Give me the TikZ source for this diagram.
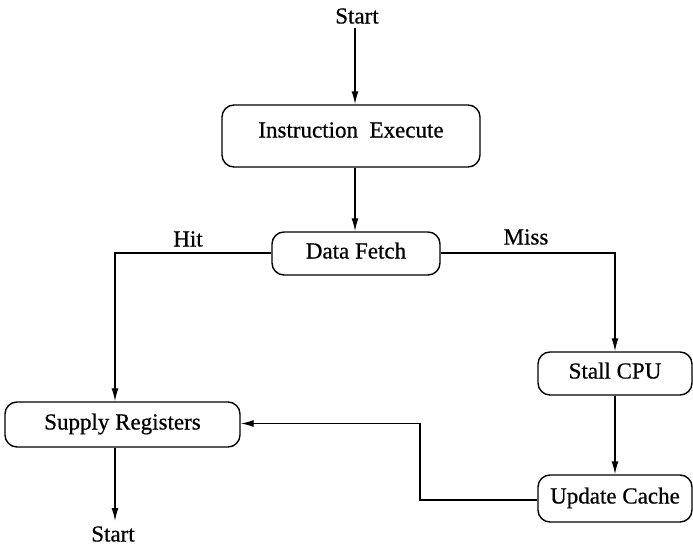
\documentclass[tikz,border=0pt]{standalone}
\usepackage{fontspec}
\setmainfont{Liberation Serif}
\newfontfamily\chartfont{Liberation Serif}[FakeBold=0.6]
\usetikzlibrary{arrows.meta}
\begin{document}
\begin{tikzpicture}[x=1pt,y=-1pt,
  font=\chartfont\fontsize{23}{27}\selectfont,
  stepbox/.style={draw,line width=1.4pt,rounded corners=12pt,inner sep=0pt,
    text height=15pt,text depth=5pt},
  flow/.style={line width=1.4pt,-{Latex[length=13pt,width=7pt]}}]
\useasboundingbox (0,0) rectangle (693,546);

% process boxes
\node[stepbox,minimum width=258pt,minimum height=62pt,text height=32.5pt,text depth=29.5pt]
  (ie) at (351,136) {Instruction\ \ Execute};
\node[stepbox,minimum width=168pt,minimum height=43pt] (df) at (356,253.5) {Data Fetch};
\node[stepbox,minimum width=154pt,minimum height=43pt] (stall) at (615,373.5) {Stall CPU};
\node[stepbox,minimum width=154pt,minimum height=47pt] (upd) at (615,498.5) {Update Cache};
\node[stepbox,minimum width=235pt,minimum height=45pt] (sr) at (122.5,424.5) {Supply Registers};

% entry and exit labels
\node (start1) at (357,16) {Start};
\node (start2) at (113,534) {Start};

% branch labels
\node (hit) at (188,239) {Hit};
\node (miss) at (526,237) {Miss};

% helper points
\coordinate (top) at (355,28);
\coordinate (bot) at (115,521);
\coordinate (hitc) at (115,253);
\coordinate (missc) at (615,253);
\coordinate (ret1) at (420,500);
\coordinate (ret2) at (420,423.5);

% connectors
\draw[flow] (top) -- (top |- ie.north);
\draw[flow] (top |- ie.south) -- (top |- df.north);
\draw[flow] (hitc -| df.west) -- (hitc) -- (hitc |- sr.north);
\draw[flow] (missc -| df.east) -- (missc) -- (stall.north);
\draw[flow] (stall.south) -- (upd.north);
\draw[flow] (ret1 -| upd.west) -- (ret1) -- (ret2) -- (ret2 -| sr.east);
\draw[flow] (hitc |- sr.south) -- (bot);
\end{tikzpicture}
\end{document}
